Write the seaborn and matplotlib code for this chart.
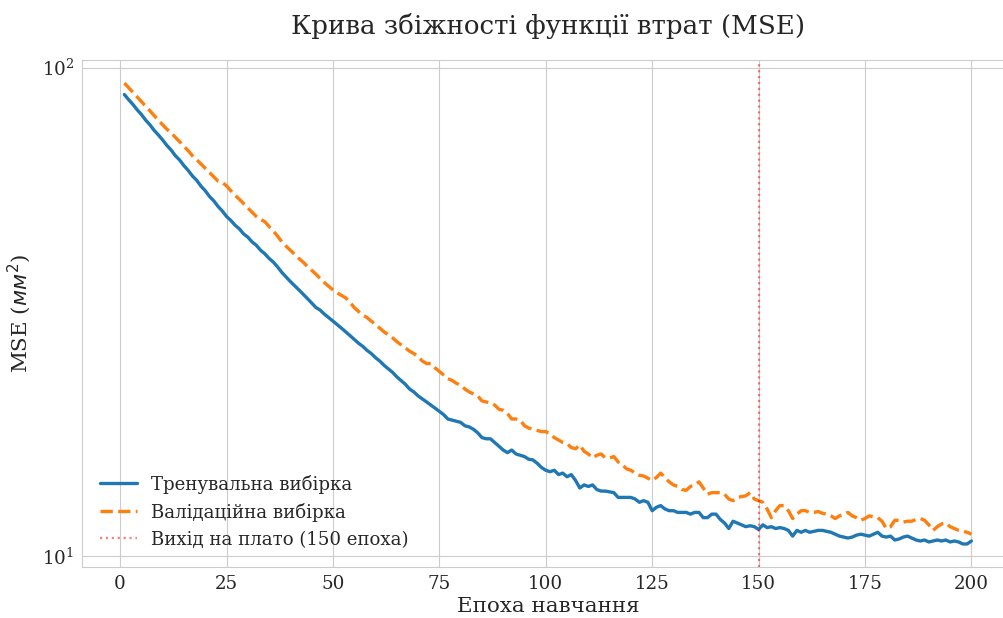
import numpy as np
import pandas as pd
import matplotlib
matplotlib.use('Agg')
import matplotlib.pyplot as plt
import seaborn as sns

# епохи навчання
epochs = np.arange(1, 201)

# MSE на тренувальній вибірці
train_mse = [
    88.1, 86.0, 84.1, 82.0, 80.2, 78.1, 76.4, 74.4, 72.8, 71.1,
    69.3, 67.8, 66.0, 64.7, 63.0, 61.6, 60.0, 58.8, 57.2, 56.0,
    54.5, 53.4, 52.0, 50.9, 49.6, 48.7, 47.6, 46.8, 45.7, 45.0,
    44.0, 43.3, 42.3, 41.6, 40.7, 40.0, 39.1, 38.1, 37.3, 36.5,
    35.8, 35.1, 34.4, 33.7, 33.0, 32.3, 31.9, 31.3, 30.8, 30.3,
    29.8, 29.3, 28.8, 28.3, 27.8, 27.3, 26.9, 26.4, 26.0, 25.5,
    25.1, 24.6, 24.2, 23.8, 23.3, 22.9, 22.5, 22.0, 21.7, 21.3,
    21.0, 20.7, 20.4, 20.1, 19.8, 19.5, 19.1, 19.0, 18.9, 18.8,
    18.5, 18.4, 18.2, 17.9, 17.5, 17.4, 17.4, 17.1, 16.8, 16.5,
    16.3, 16.5, 16.2, 16.1, 16.0, 15.8, 15.75, 15.5, 15.2, 15.0,
    14.9, 15.0, 14.7, 14.8, 14.55, 14.7, 14.3, 13.8, 14.0, 13.9,
    14.0, 13.7, 13.6, 13.6, 13.55, 13.5, 13.2, 13.2, 13.2, 13.2,
    13.1, 12.9, 13.0, 12.9, 12.4, 12.6, 12.7, 12.5, 12.4, 12.4,
    12.3, 12.3, 12.3, 12.2, 12.3, 12.3, 12.0, 12.0, 12.2, 12.2,
    11.9, 11.7, 11.4, 11.8, 11.7, 11.6, 11.5, 11.55, 11.5, 11.35,
    11.6, 11.45, 11.5, 11.4, 11.45, 11.4, 11.3, 11.0, 11.3, 11.2,
    11.3, 11.2, 11.25, 11.3, 11.3, 11.25, 11.2, 11.1, 11.0, 10.95,
    10.9, 10.95, 11.05, 11.1, 11.05, 11.0, 11.1, 11.2, 11.0, 10.95,
    11.0, 10.8, 10.85, 10.95, 11.0, 10.9, 10.8, 10.75, 10.8, 10.7,
    10.75, 10.8, 10.75, 10.8, 10.7, 10.75, 10.7, 10.6, 10.6, 10.75,
]

# MSE на валідаційній вибірці
val_mse = [
    93.0, 91.0, 89.0, 87.1, 85.2, 83.4, 81.6, 79.8, 78.0, 76.4,
    74.8, 73.5, 72.0, 70.5, 69.0, 67.6, 66.0, 64.8, 63.5, 62.2,
    61.0, 59.8, 58.6, 58.2, 57.3, 56.0, 54.8, 53.8, 52.7, 51.6,
    50.6, 49.6, 48.9, 48.4, 47.3, 46.3, 45.2, 44.0, 43.1, 42.3,
    41.5, 40.7, 40.0, 39.2, 38.5, 37.8, 37.0, 36.3, 35.7, 35.1,
    34.6, 34.2, 33.8, 33.1, 32.3, 31.7, 31.2, 30.8, 30.3, 29.8,
    29.3, 28.8, 28.4, 28.0, 27.5, 27.1, 26.7, 26.3, 26.0, 25.6,
    25.1, 24.8, 24.8, 24.3, 23.9, 23.5, 23.1, 22.9, 22.6, 22.4,
    22.0, 21.7, 21.5, 21.3, 20.8, 20.7, 20.6, 20.4, 20.0, 19.9,
    19.6, 19.1, 19.1, 19.0, 18.5, 18.3, 18.2, 18.1, 18.0, 18.0,
    17.8, 17.5, 17.3, 17.1, 17.0, 16.7, 16.6, 16.9, 16.4, 16.2,
    15.9, 16.1, 16.2, 15.9, 15.9, 16.0, 15.6, 15.4, 15.1, 15.0,
    14.8, 14.65, 14.6, 14.45, 14.3, 14.5, 14.8, 14.5, 14.2, 14.0,
    13.9, 13.7, 13.65, 13.9, 14.0, 14.2, 13.8, 13.4, 13.5, 13.5,
    13.5, 13.4, 13.1, 13.0, 13.2, 13.25, 13.3, 13.5, 13.1, 13.0,
    12.9, 12.5, 12.0, 12.4, 12.7, 12.7, 12.4, 11.95, 12.2, 12.4,
    12.4, 12.3, 12.3, 12.35, 12.25, 12.2, 12.1, 11.95, 12.1, 12.2,
    12.3, 12.1, 12.0, 11.85, 11.95, 12.1, 12.05, 12.0, 11.8, 11.4,
    11.5, 11.85, 11.85, 11.75, 11.8, 11.8, 11.9, 11.95, 11.85, 11.6,
    11.3, 11.5, 11.65, 11.7, 11.5, 11.4, 11.3, 11.25, 11.2, 11.1,
]

plateau_epoch = 150

df = pd.DataFrame({'epoch': epochs, 'train': train_mse, 'val': val_mse})

sns.set_style('whitegrid')
plt.rcParams['font.family'] = ['DejaVu Serif']

fig = plt.figure(figsize=(10.04, 6.18), dpi=100)
ax = fig.add_axes([0.0817, 0.0825, 0.928, 0.8204])

sns.lineplot(data=df, x='epoch', y='train', ax=ax, color='#1f77b4',
             linewidth=2.4, label='Тренувальна вибірка')
sns.lineplot(data=df, x='epoch', y='val', ax=ax, color='#ff7f0e',
             linewidth=2.4, linestyle='--', label='Валідаційна вибірка')
ax.axvline(plateau_epoch, color='red', linestyle=':', linewidth=1.6, alpha=0.5,
           label=f'Вихід на плато ({plateau_epoch} епоха)')

ax.set_yscale('log')
ax.set_xticks([0, 25, 50, 75, 100, 125, 150, 175, 200])

ax.set_title('Крива збіжності функції втрат (MSE)', fontsize=18.8, pad=19, color='.15')
ax.set_xlabel('Епоха навчання', fontsize=15.4, color='.15', labelpad=3)
ax.set_ylabel(r'MSE ($мм^2$)', fontsize=15.4, color='.15', labelpad=6)
ax.tick_params(labelsize=13.2, pad=2)

ax.legend(loc='lower left', frameon=False, fontsize=13.1, borderaxespad=0.6)

fig.savefig('out.png', dpi=100)
